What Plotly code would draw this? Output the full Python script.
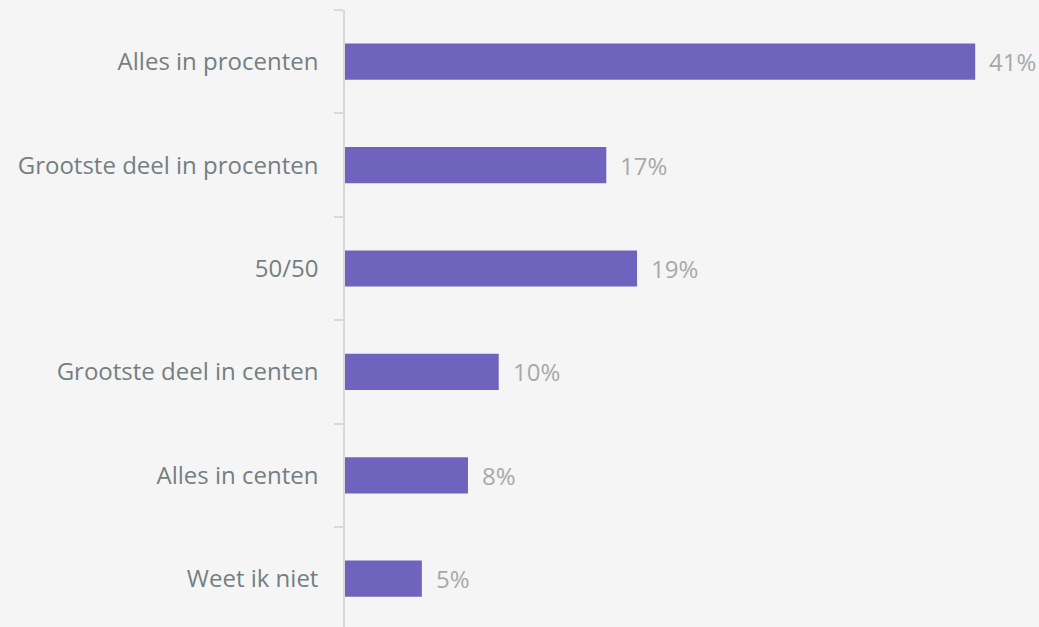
import plotly.graph_objects as go

categories = ["Alles in procenten", "Grootste deel in procenten", "50/50",
              "Grootste deel in centen", "Alles in centen", "Weet ik niet"]
values = [41, 17, 19, 10, 8, 5]
value_labels = ["41%", "17%", "19%", "10%", "8%", "5%"]

BAR = "#7063bd"
BG = "#f5f5f5"
FONT = "Open Sans, Segoe UI, sans-serif"

fig = go.Figure(go.Bar(
    x=values, y=categories, orientation="h",
    marker=dict(color=BAR, line=dict(width=0)),
    width=0.35, hoverinfo="skip",
))

for c, v, t in zip(categories, values, value_labels):
    fig.add_annotation(x=v, y=c, text=t, showarrow=False, xanchor="left",
                       xshift=12, font=dict(family=FONT, size=24, color="#a5aaaa"))

fig.update_layout(
    width=1039, height=627,
    paper_bgcolor=BG, plot_bgcolor=BG,
    margin=dict(l=345, r=0, t=10, b=0),
    showlegend=False,
    xaxis=dict(range=[0, 45.15], visible=False, fixedrange=True),
    yaxis=dict(
        type="category", categoryorder="array", categoryarray=categories,
        range=[5.467, -0.5], showgrid=False, zeroline=False, fixedrange=True,
        showline=True, linecolor="#d9d9d9", linewidth=1.5,
        ticks="outside", tickson="boundaries", ticklen=9, tickcolor="#d9d9d9",
        tickwidth=1.5, ticklabelstandoff=20,
        tickfont=dict(family=FONT, size=24, color="#767f80"),
    ),
)

fig.write_html("out.html", config={"displayModeBar": False},
               post_script="document.body.style.margin='0';document.body.style.background='#f5f5f5';")
